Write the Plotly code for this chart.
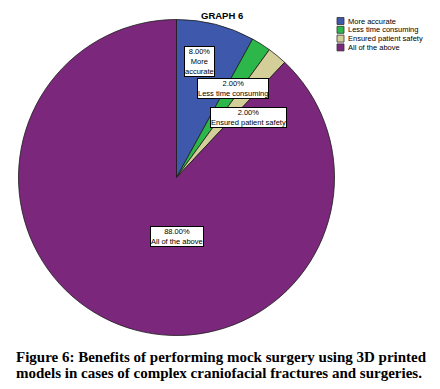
import plotly.graph_objects as go

categories = ["More accurate", "Less time consuming", "Ensured patient safety", "All of the above"]
values = [8, 2, 2, 88]
box_labels = ["8.00%<br>More<br>accurate", "2.00%<br>Less time consuming",
              "2.00%<br>Ensured patient safety", "88.00%<br>All of the above"]
colors = ["#3E58AC", "#2DB74A", "#D4CE98", "#7B287C"]

OFF = 8  # browser body margin
W, H = 440 - OFF, 389 - OFF
def px(x): return (x - OFF) / W
def py(y): return 1 - (y - OFF) / H

# pie geometry (page pixels)
cx, cy, r = 176.5, 177.5, 158

fig = go.Figure(go.Pie(
    labels=categories, values=values, sort=False, direction="clockwise", rotation=0,
    marker=dict(colors=colors, line=dict(color="#1a1a1a", width=0.8)),
    textinfo="none", hoverinfo="label+percent", showlegend=False,
    domain=dict(x=[px(cx - r), px(cx + r)], y=[py(cy + r), py(cy - r)]),
))

label_pos = [(199, 62), (233.5, 88.5), (248.5, 117.5), (176.5, 236.5)]
for txt, (x, y) in zip(box_labels, label_pos):
    fig.add_annotation(x=px(x), y=py(y), xref="paper", yref="paper", text=txt,
                       xanchor="center", yanchor="middle",
                       showarrow=False, bgcolor="white", bordercolor="black", borderwidth=1,
                       borderpad=0, font=dict(family="Liberation Sans, Arial", size=7.5, color="black"))

# legend (custom)
leg_x, leg_y0, leg_dy = 337, 21, 8.8
for i, (cat, col) in enumerate(zip(categories, colors)):
    y = leg_y0 + i * leg_dy
    fig.add_shape(type="rect", xref="paper", yref="paper",
                  x0=px(leg_x), x1=px(leg_x + 7), y0=py(y + 3.5), y1=py(y - 3.5),
                  fillcolor=col, line=dict(color="#333", width=0.8))
    fig.add_annotation(x=px(leg_x + 8.5), y=py(y), xref="paper", yref="paper", text=cat,
                       xanchor="left", yanchor="middle", showarrow=False,
                       font=dict(family="Liberation Sans, Arial", size=7.5, color="black"))

fig.add_annotation(x=px(222), y=py(8), xref="paper", yref="paper", text="<b>GRAPH 6</b>",
                   xanchor="center", yanchor="top",
                   showarrow=False, font=dict(family="Liberation Sans, Arial", size=9.5, color="black"))

fig.add_annotation(x=px(14), y=py(357), xref="paper", yref="paper", xanchor="left", yanchor="middle",
                   text="<b>Figure 6: Benefits of performing mock surgery using 3D printed</b>",
                   showarrow=False, font=dict(family="Liberation Serif, serif", size=15, color="black"))
fig.add_annotation(x=px(14), y=py(373), xref="paper", yref="paper", xanchor="left", yanchor="middle",
                   text="<b>models in cases of complex craniofacial fractures and surgeries.</b>",
                   showarrow=False, font=dict(family="Liberation Serif, serif", size=15, color="black"))

fig.update_layout(width=W, height=H, margin=dict(l=0, r=0, t=0, b=0),
                  paper_bgcolor="white", plot_bgcolor="white")
fig.write_html("out.html")
